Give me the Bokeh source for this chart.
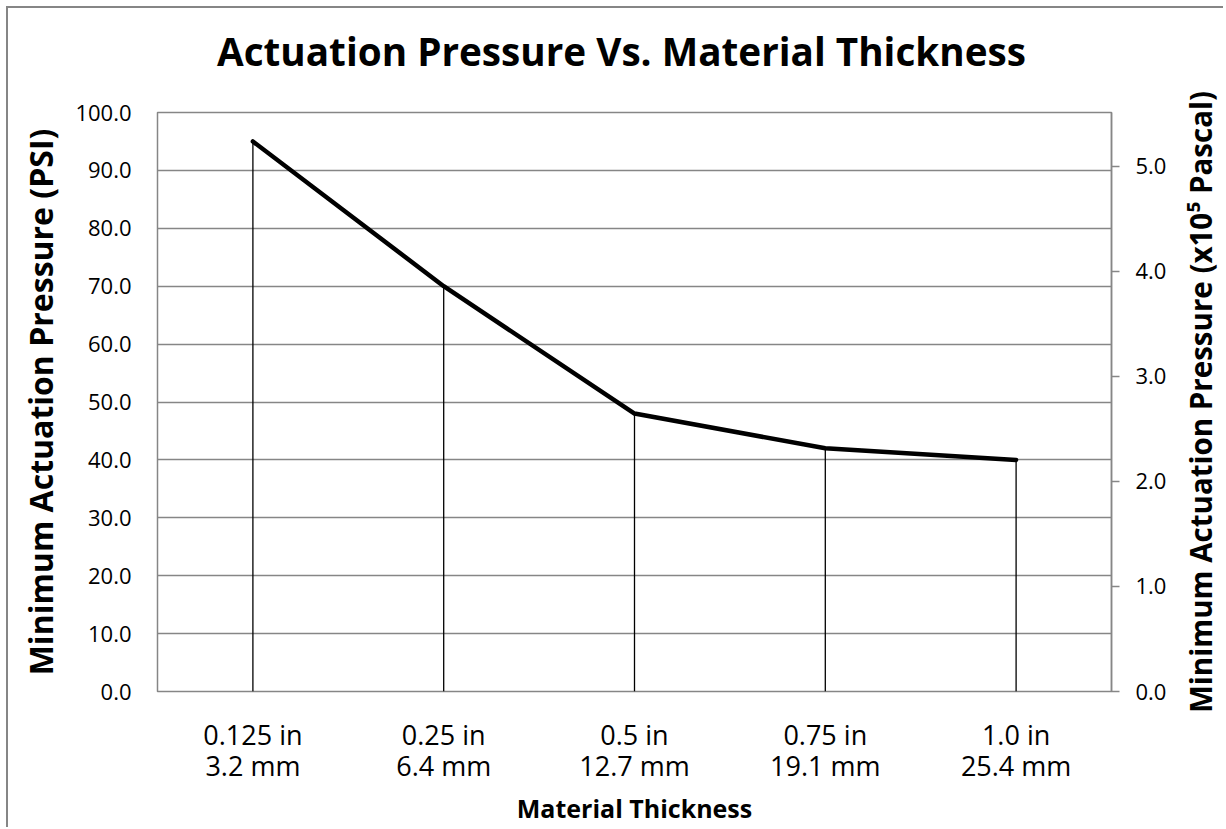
from bokeh.plotting import figure
from bokeh.layouts import column, row
from bokeh.models import (Range1d, LinearAxis, FixedTicker, PrintfTickFormatter,
                          FactorRange, Label, Title)
from bokeh.embed import file_html
from bokeh.resources import INLINE

# ---- data ----
categories = ["0.125 in\n3.2 mm", "0.25 in\n6.4 mm", "0.5 in\n12.7 mm",
              "0.75 in\n19.1 mm", "1.0 in\n25.4 mm"]
pressure_psi = [95.0, 70.0, 48.0, 42.0, 40.0]
psi_ticks = [0, 10, 20, 30, 40, 50, 60, 70, 80, 90, 100]
pascal_ticks = [0, 1, 2, 3, 4, 5]
pascal_max = 5.51
title_text = "Actuation Pressure Vs. Material Thickness"
right_label_text = "Minimum Actuation Pressure (x10\u2075 Pascal)"

FONT = "Open Sans"
GRAY = "#868686"

TITLE_H = 84
MAIN_W = 1169
SIDE_W = 46
TOTAL_H = 819


def blank_fig(w, h, **kw):
    f = figure(width=w, height=h, x_range=Range1d(0, w), y_range=Range1d(0, h),
               output_backend="svg", toolbar_location=None,
               x_axis_location=None, y_axis_location=None, min_border=0, **kw)
    f.outline_line_color = None
    f.grid.visible = False
    f.background_fill_color = "white"
    f.border_fill_color = "white"
    return f


# ---- title strip ----
pt = blank_fig(MAIN_W + SIDE_W, TITLE_H)
pt.add_layout(Label(x=613, y=42, text=title_text, text_align="center",
                    text_baseline="alphabetic", text_font=FONT,
                    text_font_size="38.7px", text_font_style="bold",
                    text_color="black"))

# ---- main chart ----
p = figure(width=MAIN_W, height=TOTAL_H - TITLE_H,
           x_range=FactorRange(*categories, range_padding=0),
           y_range=Range1d(0, 100), output_backend="svg", toolbar_location=None,
           min_border_left=149, min_border_right=66, min_border_top=20,
           min_border_bottom=134)
p.outline_line_color = GRAY
p.outline_line_width = 1.5
p.background_fill_color = "white"
p.border_fill_color = "white"

# drop lines
p.segment(x0=categories, y0=[0] * len(categories), x1=categories, y1=pressure_psi,
          line_color="black", line_width=1.3)
# main line
p.line(categories, pressure_psi, line_color="black", line_width=4.5,
       line_join="round", line_cap="round")

# left axis
ya = p.yaxis[0]
ya.ticker = FixedTicker(ticks=psi_ticks)
ya.formatter = PrintfTickFormatter(format="%.1f")
ya.axis_line_color = None
ya.major_tick_line_color = None
ya.minor_tick_line_color = None
ya.major_tick_out = 0
ya.major_label_standoff = 26
ya.major_label_text_font = FONT
ya.major_label_text_font_size = "22px"
ya.major_label_text_color = "black"
ya.axis_label = "Minimum Actuation Pressure (PSI)"
ya.axis_label_text_font = FONT
ya.axis_label_text_font_size = "32px"
ya.axis_label_text_font_style = "bold"
ya.axis_label_text_color = "black"
ya.axis_label_standoff = 10

# right axis
p.extra_y_ranges = {"pa": Range1d(0, pascal_max)}
ra = LinearAxis(y_range_name="pa", ticker=FixedTicker(ticks=pascal_ticks),
                formatter=PrintfTickFormatter(format="%.1f"))
ra.axis_line_color = GRAY
ra.axis_line_width = 1.5
ra.major_tick_line_color = GRAY
ra.major_tick_line_width = 1.5
ra.major_tick_out = 8
ra.major_tick_in = 0
ra.minor_tick_line_color = None
ra.major_label_standoff = 16
ra.major_label_text_font = FONT
ra.major_label_text_font_size = "22px"
ra.major_label_text_color = "black"
p.add_layout(ra, "right")

# x axis
xa = p.xaxis[0]
xa.axis_line_color = None
xa.major_tick_line_color = None
xa.major_tick_out = 0
xa.major_label_standoff = 24
xa.major_label_text_font = FONT
xa.major_label_text_font_size = "27px"
xa.major_label_text_line_height = 0.85
xa.major_label_text_color = "black"
xa.axis_label = "Material Thickness"
xa.axis_label_text_font = FONT
xa.axis_label_text_font_size = "25px"
xa.axis_label_text_font_style = "bold"
xa.axis_label_text_color = "black"
xa.axis_label_standoff = 4

# grid
p.xgrid.grid_line_color = None
p.ygrid.grid_line_color = GRAY
p.ygrid.grid_line_width = 1.5

# ---- right-hand axis title strip (left-side title reads bottom-to-top) ----
ps = blank_fig(SIDE_W, TOTAL_H - TITLE_H)
ps.add_layout(Title(text=right_label_text, align="center", standoff=0,
                    text_font=FONT, text_font_size="29.5px",
                    text_font_style="bold", text_color="black"), "left")

layout = column(pt, row(p, ps, spacing=0), spacing=0,
                styles={"border-top": "2px solid #868686",
                        "border-left": "2px solid #868686",
                        "margin-left": "6px", "margin-top": "6px"})

open("out.html", "w").write(file_html(layout, INLINE))
